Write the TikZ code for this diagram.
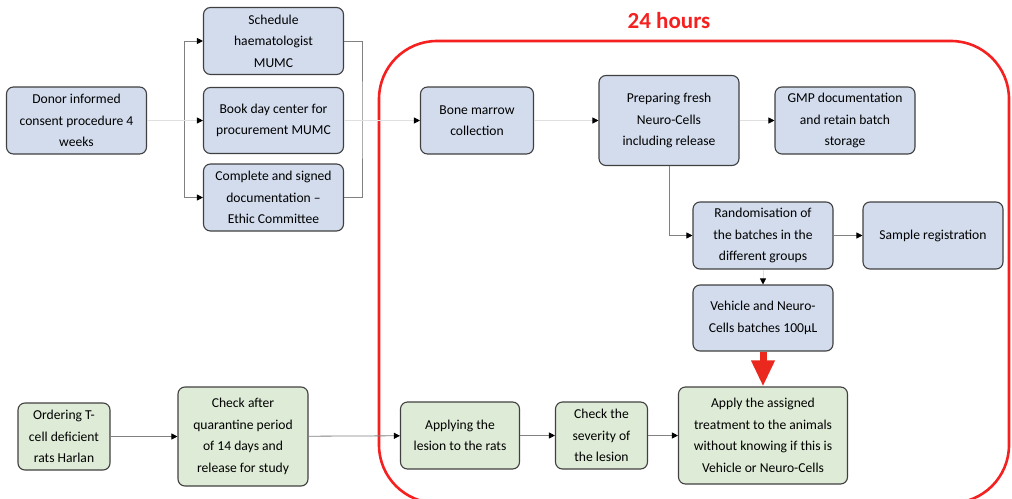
\documentclass[tikz,border=0pt]{standalone}
\usepackage{fontspec}
\setmainfont{Carlito}
\usetikzlibrary{arrows.meta}
\definecolor{boxblue}{RGB}{210,220,237}
\definecolor{boxgreen}{RGB}{222,235,214}
\definecolor{boxline}{RGB}{64,64,64}
\definecolor{frame}{RGB}{245,32,32}
\definecolor{bigarrow}{RGB}{235,40,30}

\begin{document}
\begin{tikzpicture}[
  x=1pt, y=-1pt,
  block/.style={rectangle, rounded corners=7pt, draw=boxline, line width=1.1pt, fill=boxblue,
    align=center, inner sep=1pt, minimum width=140pt, minimum height=67pt,
    font=\fontsize{13.6}{21.5}\selectfont},
  green/.style={block, fill=boxgreen},
  link/.style={draw=black!50, line width=0.8pt, -{Triangle[length=6pt,width=6pt,color=black]}},
  faint/.style={link, draw=black!12},
  node distance=2.5cm
]
\useasboundingbox (0,0) rectangle (1012,498);

% preparation at the hospital
\node[block] at (76.5,120.5) (donor) {Donor informed\\consent procedure 4\\weeks};
\node[block, right of=donor, node distance=197pt, minimum height=66pt] (book) {Book day center for\\procurement MUMC};
\node[block, above of=book, node distance=79.5pt] (sched) {Schedule\\haematologist\\MUMC};
\node[block, below of=book, node distance=77pt] (complete) {Complete and signed\\documentation --\\Ethic Committee};

% the 24 hours window
\begin{scope}
\clip (0,0) rectangle (1012,498);
\draw[frame, line width=2.6pt, rounded corners=58pt] (379,41) rectangle (1009,503);
\end{scope}
\node[text=frame, font=\fontsize{23}{26}\selectfont\bfseries] at (669,21) (title) {24 hours};

\node[block, right of=book, node distance=203.5pt, minimum width=113pt] (bone) {Bone marrow\\collection};
\node[block, right of=bone, node distance=192pt, minimum height=90pt] (prep) {Preparing fresh\\Neuro-Cells\\including release};
\node[block, right of=prep, node distance=176pt] (gmp) {GMP documentation\\and retain batch\\storage};
\node[block] at (763,235.5) (rand) {Randomisation of\\the batches in the\\different groups};
\node[block, right of=rand, node distance=170pt] (sample) {Sample registration};
\node[block, below of=rand, node distance=82.5pt, minimum height=66pt] (vehicle) {Vehicle and Neuro-\\Cells batches 100µL};

% animal side
\node[green, below of=vehicle, node distance=117.5pt, minimum width=169pt, minimum height=97pt] (assigned) {Apply the assigned\\treatment to the animals\\without knowing if this is\\Vehicle or Neuro-Cells};
\node[green, left of=assigned, node distance=161.5pt, minimum width=92pt] (severity) {Check the\\severity of\\the lesion};
\node[green, left of=severity, node distance=141.5pt, minimum width=119pt] (lesion) {Applying the\\lesion to the rats};
\node[green, minimum width=130pt, minimum height=99pt] at (243,436.5) (quarantine) {Check after\\quarantine period\\of 14 days and\\release for study};
\node[green, minimum width=92pt] at (64,436.5) (ordering) {Ordering T-\\cell deficient\\rats Harlan};

\coordinate (fork) at (184,120.5);
\coordinate (join) at (362,120.5);

\draw[faint, -] (donor.east) -- (fork);
\draw[link] (fork) |- (sched.west);
\draw[link] (fork) |- (complete.west);
\draw[faint] (fork) -- (book.west);
\draw[link, -] (sched.east) -| (join) |- (complete.east);
\draw[faint] (book.east) -- (bone.west);
\draw[faint] (bone) -- (prep);
\draw[faint] (prep) -- (gmp);
\draw[link] (prep.south) |- (rand.west);
\draw[link] (rand) -- (sample);
\draw[faint] (rand) -- (vehicle);
\draw[bigarrow, line width=7pt, -{Triangle[length=26pt,width=22pt]}] (vehicle.south) -- (assigned.north);

\draw[link] (ordering) -- (quarantine);
\draw[link] (quarantine) -- (lesion);
\draw[link] (lesion) -- (severity);
\draw[link] (severity) -- (assigned);
\end{tikzpicture}
\end{document}
